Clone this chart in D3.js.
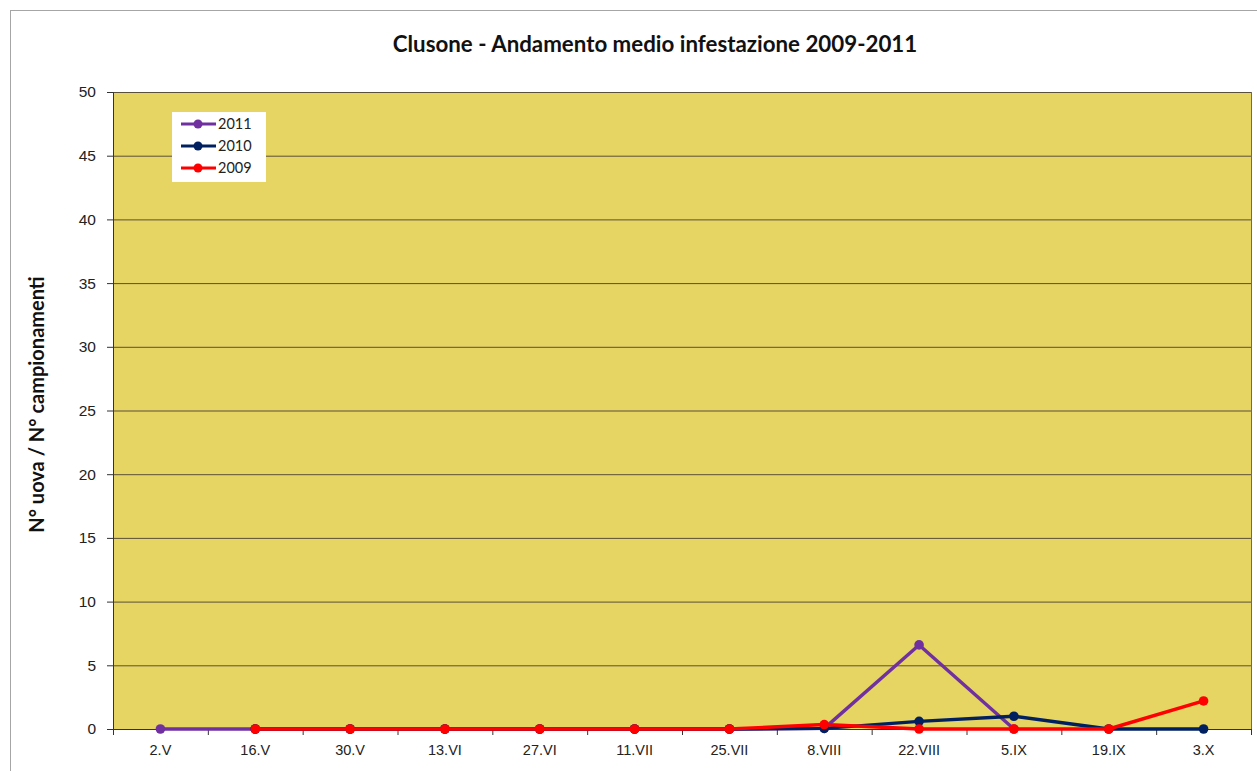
<!DOCTYPE html>
<html><head><meta charset="utf-8">
<script src="https://cdn.jsdelivr.net/npm/d3@7"></script>
<style>body{margin:0;background:#fff}svg{display:block}</style>
</head><body>
<script>
const categories = ["2.V","16.V","30.V","13.VI","27.VI","11.VII","25.VII","8.VIII","22.VIII","5.IX","19.IX","3.X"];
const yTicks = [0,5,10,15,20,25,30,35,40,45,50];
const s2011 = [0,0,0,0,0,0,0,0.05,6.6,0,null,null];
const s2010 = [null,0,0,0,0,0,0,0.05,0.6,1.0,0,0];
const s2009 = [null,0,0,0,0,0,0,0.35,0,0,0,2.2];
const seriesNames = ["2011","2010","2009"];
const seriesColors = ["#7030a0","#002060","#ff0000"];
const seriesData = [s2011,s2010,s2009];

const W=1257,H=771;
const svg=d3.select("body").append("svg").attr("width",W).attr("height",H).style("font-family","Lato, 'Open Sans', sans-serif");
svg.append("rect").attr("x",10.5).attr("y",10.5).attr("width",1260).attr("height",800).attr("fill","#fff").attr("stroke","#a6a6a6");

const L=113,R=1251,T=92,B=729;
const x=d3.scaleBand().domain(categories).range([L,R]);
const y=d3.scaleLinear().domain([0,50]).range([B,T]);

svg.append("rect").attr("x",L).attr("y",T).attr("width",R-L).attr("height",B-T).attr("fill","#e6d463");

// grid
svg.append("g").selectAll("line").data(yTicks).join("line")
 .attr("x1",L).attr("x2",R).attr("y1",d=>y(d)+0.5).attr("y2",d=>y(d)+0.5)
 .attr("stroke","#5a4f3a").attr("stroke-width",1);
svg.append("line").attr("x1",R+0.5).attr("x2",R+0.5).attr("y1",T).attr("y2",B).attr("stroke","#6b6b6b");

// y axis
const ya=svg.append("g").attr("transform",`translate(${L},0)`)
 .call(d3.axisLeft(y).tickValues(yTicks).tickSize(6).tickPadding(11));
ya.select(".domain").attr("stroke","#333");
ya.selectAll(".tick line").attr("stroke","#333");
ya.selectAll("text").attr("font-size",15.5).attr("fill","#222");

// x axis
const xa=svg.append("g").attr("transform",`translate(0,${B})`)
 .call(d3.axisBottom(x).tickSize(0).tickPadding(16));
xa.select(".domain").attr("stroke","#333");
xa.selectAll("text").attr("font-size",14.5).attr("fill","#222");
const edges=categories.map(c=>x(c)).concat([R]);
xa.append("g").selectAll("line").data(edges).join("line")
 .attr("x1",d=>d+0.5).attr("x2",d=>d+0.5).attr("y1",0).attr("y2",6).attr("stroke","#333");

// lines
const line=d3.line().defined(d=>d!=null).x((d,i)=>x(categories[i])+x.bandwidth()/2).y(d=>y(d));
seriesData.forEach((data,k)=>{
  const g=svg.append("g");
  g.append("path").datum(data).attr("d",line).attr("fill","none").attr("stroke",seriesColors[k]).attr("stroke-width",3.4).attr("stroke-linejoin","round");
  g.selectAll("circle").data(data.map((v,i)=>({v,i})).filter(d=>d.v!=null)).join("circle")
   .attr("cx",d=>x(categories[d.i])+x.bandwidth()/2).attr("cy",d=>y(d.v)).attr("r",4.8).attr("fill",seriesColors[k]);
});

// legend
const lg=svg.append("g");
lg.append("rect").attr("x",172).attr("y",112).attr("width",94).attr("height",70).attr("fill","#fff");
seriesNames.forEach((n,k)=>{
  const yy=124+k*22;
  lg.append("line").attr("x1",181).attr("x2",216).attr("y1",yy).attr("y2",yy).attr("stroke",seriesColors[k]).attr("stroke-width",3);
  lg.append("circle").attr("cx",198).attr("cy",yy).attr("r",4.5).attr("fill",seriesColors[k]);
  lg.append("text").attr("x",218).attr("y",yy+5).attr("font-size",14.5).attr("fill","#222").text(n);
});

// title
svg.append("text").attr("x",655).attr("y",52).attr("text-anchor","middle").attr("font-size",22.3).attr("font-weight","bold").attr("fill","#111")
 .text("Clusone - Andamento medio infestazione 2009-2011");
svg.append("text").attr("transform",`translate(44,${(T+B)/2 - 6}) rotate(-90)`).attr("text-anchor","middle").attr("font-size",20).attr("font-weight","bold").attr("fill","#111")
 .text("N° uova / N° campionamenti");
</script>
</body></html>
